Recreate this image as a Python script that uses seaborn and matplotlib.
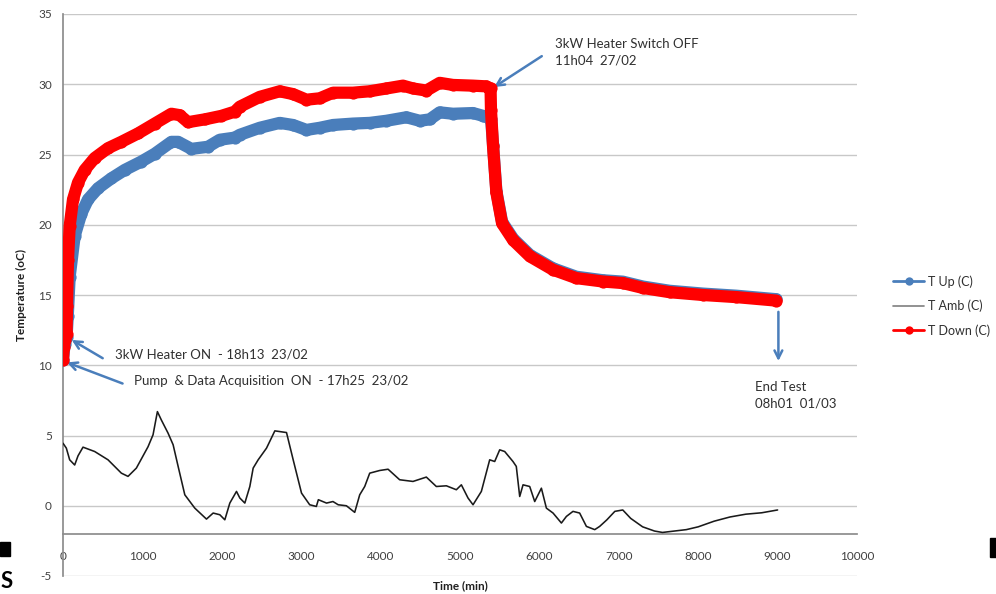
import matplotlib
matplotlib.use("Agg")
import matplotlib.pyplot as plt
from matplotlib.lines import Line2D
from matplotlib.patches import Rectangle
import seaborn as sns

# ---------------- data ----------------
up_t = [0, 20, 45, 60, 84, 147, 231, 315, 441, 609, 777, 987, 1155, 1365, 1450,
        1617, 1826, 1974, 2163, 2226, 2477, 2729, 2897, 3066, 3233, 3401, 3652,
        3863, 4073, 4325, 4492, 4618, 4744, 4912, 5164, 5290, 5370, 5392, 5416,
        5458, 5530, 5670, 5880, 6170, 6465, 6800, 7050, 7305, 7640, 8060, 8480, 8985]
up_v = [10.4, 11.5, 12.0, 13.5, 16.3, 19.2, 20.8, 21.8, 22.6, 23.3, 23.9, 24.5,
        25.05, 25.9, 25.9, 25.4, 25.55, 26.05, 26.2, 26.4, 26.9, 27.25, 27.1, 26.75,
        26.9, 27.1, 27.2, 27.25, 27.4, 27.65, 27.4, 27.5, 28.0, 27.9, 27.95, 27.75,
        27.6, 27.5, 25.7, 22.4, 20.2, 19.0, 17.85, 16.9, 16.3, 16.05, 15.95, 15.6,
        15.3, 15.1, 14.95, 14.7]

down_t = [0, 10, 25, 45, 50, 63, 84, 126, 189, 273, 399, 567, 735, 945, 1155, 1365,
          1470, 1575, 1785, 1995, 2163, 2226, 2477, 2729, 2897, 3066, 3233, 3401,
          3652, 3863, 4073, 4282, 4408, 4577, 4744, 4912, 5164, 5332, 5385, 5390,
          5416, 5458, 5530, 5670, 5880, 6170, 6465, 6800, 7050, 7305, 7640, 8060,
          8480, 8985]
down_v = [10.4, 11.3, 11.8, 12.2, 14.2, 17.5, 19.9, 21.8, 23.0, 23.9, 24.75, 25.45,
          25.9, 26.5, 27.2, 27.9, 27.8, 27.3, 27.5, 27.75, 28.05, 28.4, 29.1, 29.5,
          29.3, 28.9, 29.0, 29.4, 29.4, 29.5, 29.7, 29.9, 29.7, 29.55, 30.1, 29.95,
          29.9, 29.85, 29.7, 28.2, 25.6, 22.3, 20.1, 18.9, 17.75, 16.8, 16.2, 15.96,
          15.85, 15.5, 15.2, 15.0, 14.85, 14.6]

amb_t = [0, 42, 84, 147, 189, 252, 399, 567, 735, 819, 924, 1071, 1134, 1189, 1239,
         1323, 1387, 1450, 1534, 1660, 1807, 1891, 1975, 2038, 2101, 2185, 2227, 2290,
         2353, 2395, 2458, 2563, 2668, 2815, 2899, 3004, 3107, 3191, 3216, 3319, 3400,
         3466, 3569, 3674, 3737, 3800, 3863, 3989, 4094, 4240, 4408, 4576, 4702, 4828,
         4954, 5017, 5101, 5164, 5269, 5374, 5437, 5500, 5563, 5667, 5709, 5752, 5794,
         5878, 5941, 6025, 6088, 6172, 6277, 6340, 6423, 6507, 6592, 6697, 6759, 6850,
         6950, 7050, 7150, 7300, 7450, 7550, 7700, 7850, 8000, 8200, 8400, 8600, 8800,
         9000]
amb_v = [4.45, 4.1, 3.27, 2.9, 3.55, 4.17, 3.86, 3.27, 2.32, 2.09, 2.68, 4.2, 5.05,
         6.7, 6.1, 5.17, 4.34, 2.8, 0.78, -0.17, -0.95, -0.52, -0.64, -1.0, 0.19, 1.02,
         0.55, 0.19, 1.37, 2.68, 3.27, 4.1, 5.33, 5.21, 3.27, 0.9, 0.07, -0.05, 0.43,
         0.19, 0.3, 0.07, 0.0, -0.47, 0.78, 1.37, 2.32, 2.51, 2.6, 1.85, 1.73, 2.04,
         1.37, 1.42, 1.14, 1.49, 0.55, 0.07, 1.02, 3.27, 3.15, 3.98, 3.86, 3.15, 2.8,
         0.66, 1.49, 1.37, 0.3, 1.25, -0.17, -0.52, -1.23, -0.76, -0.4, -0.52, -1.47,
         -1.7, -1.47, -1.0, -0.4, -0.3, -0.9, -1.5, -1.8, -1.9, -1.8, -1.7, -1.5, -1.1,
         -0.8, -0.6, -0.5, -0.3]

series_names = ["T Up (C)", "T Amb (C)", "T Down (C)"]
x_ticks = [0, 1000, 2000, 3000, 4000, 5000, 6000, 7000, 8000, 9000, 10000]
y_ticks = [-5, 0, 5, 10, 15, 20, 25, 30, 35]

# ---------------- style ----------------
sns.set_theme(style="white")
plt.rcParams["font.family"] = ["Lato", "DejaVu Sans"]

BLUE = "#4a7ebb"
RED = "#ff0000"
GRID = "#c8c8c8"
AXC = "#8c8c8c"
TXT = "#404040"

fig = plt.figure(figsize=(9.96, 5.94), dpi=100)
ax = fig.add_axes([63 / 996, 1 - 576 / 594, 794 / 996, 562 / 594])

kw = dict(linewidth=8.8, marker="o", markersize=8.8, markeredgewidth=0,
          solid_joinstyle="round", solid_capstyle="round", sort=False, ax=ax)
sns.lineplot(x=up_t, y=up_v, color=BLUE, zorder=3, **kw)
sns.lineplot(x=amb_t, y=amb_v, color="#1a1a1a", linewidth=1.15, sort=False, ax=ax, zorder=4)
sns.lineplot(x=down_t, y=down_v, color=RED, zorder=5, **kw)

ax.set_xlim(0, 10000)
ax.set_ylim(-5, 35)
ax.set_xticks(x_ticks)
ax.set_yticks(y_ticks)
ax.set_xticklabels([str(v) for v in x_ticks])
ax.set_yticklabels([str(v) for v in y_ticks])

ax.yaxis.grid(True, color=GRID, linewidth=1.0)
ax.xaxis.grid(False)
ax.set_axisbelow(True)

for s in ["top", "right"]:
    ax.spines[s].set_visible(False)
ax.spines["left"].set_color(AXC)
ax.spines["bottom"].set_color(AXC)
ax.spines["bottom"].set_position(("data", -2))
ax.tick_params(axis="both", which="major", direction="out", length=4, width=1,
               color=AXC, labelsize=8.5, labelcolor=TXT)
ax.tick_params(axis="x", pad=8)
ax.tick_params(axis="y", pad=4)

ax.set_xlabel("Time (min)", fontsize=8.5, fontweight="bold", color="#202020")
ax.xaxis.set_label_coords(0.5, -0.008)
ax.set_ylabel("Temperature (oC)", fontsize=8.5, fontweight="bold", color="#202020")
ax.yaxis.set_label_coords(-0.045, 0.5)

# legend
handles = [
    Line2D([], [], color=BLUE, linewidth=2, marker="o", markersize=6, markeredgewidth=0),
    Line2D([], [], color="#7f7f7f", linewidth=1.2),
    Line2D([], [], color=RED, linewidth=2, marker="o", markersize=6, markeredgewidth=0),
]
leg = fig.legend(handles, series_names, loc="center left",
                 bbox_to_anchor=(893 / 996, 1 - 306 / 594), frameon=False,
                 fontsize=9, handlelength=2.5, handletextpad=0.3, labelspacing=0.95,
                 borderaxespad=0, borderpad=0)
for t in leg.get_texts():
    t.set_color("#303030")

# annotations
ann_kw = dict(annotation_clip=False,
              arrowprops=dict(arrowstyle="->", color=BLUE, lw=1.8,
                              mutation_scale=14, shrinkA=0, shrinkB=0))
ax.annotate("", xy=(5430, 29.8), xytext=(6030, 32.0), **ann_kw)
ax.text(6200, 32.3, "3kW Heater Switch OFF\n11h04  27/02", fontsize=9.5,
        color="#303030", va="center", ha="left", linespacing=1.45)

ax.annotate("", xy=(110, 11.8), xytext=(500, 10.5), **ann_kw)
ax.text(650, 10.8, "3kW Heater ON  - 18h13  23/02", fontsize=9.5, color="#303030",
        va="center", ha="left")

ax.annotate("", xy=(50, 10.2), xytext=(750, 8.7), **ann_kw)
ax.text(890, 8.9, "Pump  & Data Acquisition  ON  - 17h25  23/02", fontsize=9.5,
        color="#303030", va="center", ha="left")

ax.annotate("", xy=(9010, 10.3), xytext=(9010, 13.8), **ann_kw)
ax.text(8720, 7.9, "End Test\n08h01  01/03", fontsize=9.5, color="#303030",
        va="center", ha="left", linespacing=1.45)

# slide crop artifacts at the edges
fig.patches.append(Rectangle((0, 1 - 556 / 594), 10 / 996, 14 / 594,
                             transform=fig.transFigure, color="black", zorder=10))
fig.patches.append(Rectangle((990 / 996, 1 - 557 / 594), 6 / 996, 19 / 594,
                             transform=fig.transFigure, color="black", zorder=10))
fig.text(0.5 / 996, 1 - 582 / 594, "S", fontsize=16, fontweight="bold", color="black",
         ha="left", va="center")

fig.savefig("out.png", dpi=100)
